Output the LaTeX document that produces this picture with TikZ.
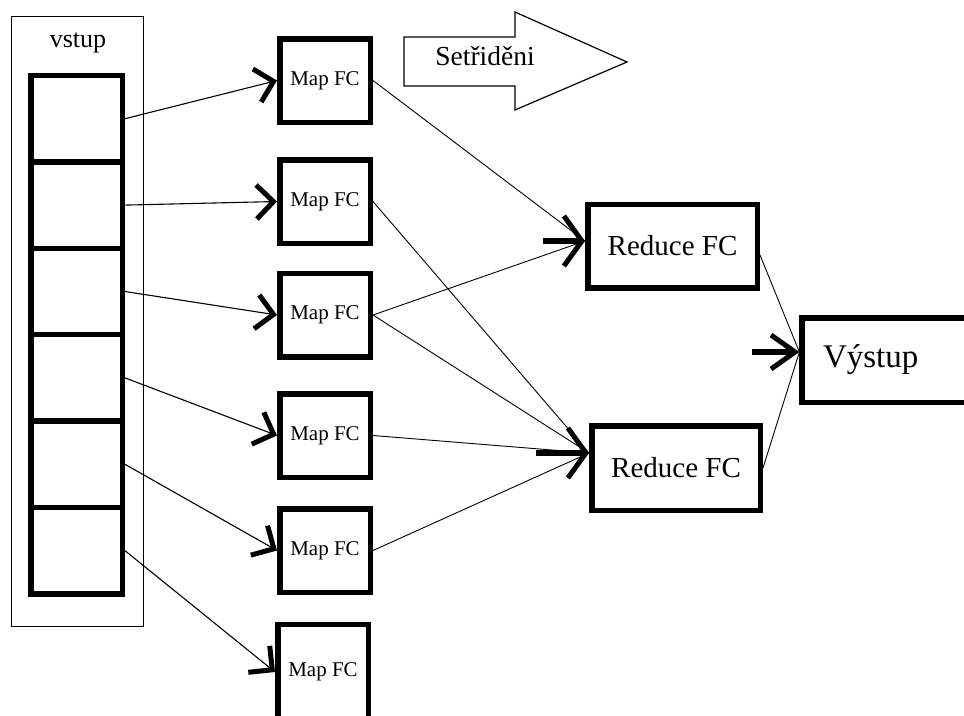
\documentclass[tikz,border=0pt]{standalone}
\usepackage{fontspec}
\setmainfont{Liberation Serif}
\usetikzlibrary{arrows.meta,positioning}

\tikzset{
  box/.style={draw, line width=5.5pt, inner sep=0pt},
  cellbox/.style={box, minimum width=91.5pt, minimum height=86.4pt},
  mapbox/.style={box, minimum width=90.5pt, minimum height=83.5pt, font=\fontsize{21}{25}\selectfont},
  redbox/.style={box, minimum height=83.5pt, font=\fontsize{29}{34}\selectfont},
  feed/.style={line width=1.1pt, -{Straight Barb[length=17pt,width=34pt,line width=5pt]}},
  link/.style={line width=0.9pt},
  stub/.style={line width=6pt, -{Straight Barb[length=18pt,width=50pt,line width=5pt]}}
}

\begin{document}
\begin{tikzpicture}[x=1pt,y=-1pt]
\useasboundingbox (0,0) rectangle (964,715);

% input
\node[draw, line width=1.2pt, minimum width=132pt, minimum height=610pt] (vstup) at (77.5,321.5) {};
\node[font=\fontsize{26}{30}\selectfont, anchor=base] (vstuptitle) at (78,47) {vstup};
\node[cellbox] (cell1) at (76.5,118.7) {};
\node[cellbox] (cell2) at (76.5,205.1) {};
\node[cellbox] (cell3) at (76.5,291.5) {};
\node[cellbox] (cell4) at (76.5,377.9) {};
\node[cellbox] (cell5) at (76.5,464.3) {};
\node[cellbox] (cell6) at (76.5,550.7) {};

% map
\node[mapbox] (map1) at (325,80.5) {Map FC};
\node[mapbox] (map2) at (325,201.5) {Map FC};
\node[mapbox] (map3) at (325,315) {Map FC};
\node[mapbox] (map4) at (325,435.5) {Map FC};
\node[mapbox] (map5) at (325,550.5) {Map FC};
\node[mapbox, minimum height=95pt] (map6) at (323,672) {Map FC};

% sorting
\draw[line width=1.2pt] (404,37) -- (515,37) -- (515,12) -- (627,62) -- (515,110) -- (515,86) -- (404,86) -- cycle;
\node[font=\fontsize{27.5}{32}\selectfont, anchor=base] (sorttext) at (485,65) {Setřiděni};

% reduce and output
\node[redbox, minimum width=169.5pt] (red1) at (672.5,246) {Reduce FC};
\node[redbox, minimum width=168.5pt, minimum height=84.5pt] (red2) at (676,468) {Reduce FC};
\node[box, minimum width=165.75pt, minimum height=84.5pt, text width=124pt, align=left, font=\fontsize{33}{38}\selectfont] (vystup) at (885,360) {Výstup};

\coordinate (r1tip) at ([yshift=5pt]red1.west);
\coordinate (r2tip) at ([yshift=15pt]red2.west);
\coordinate (outtip) at ([yshift=8pt]vystup.west);
\coordinate[left=42pt of r1tip] (r1tail);
\coordinate[left=53pt of r2tip] (r2tail);
\coordinate[left=47pt of outtip] (outtail);

\draw[feed] (cell1.east) -- (map1.west);
\draw[feed] (cell2.east) -- (map2.west);
\draw[feed] (cell3.east) -- (map3.west);
\draw[feed] (cell4.east) -- (map4.west);
\draw[feed] (cell5.east) -- (map5.west);
\draw[feed] (cell6.east) -- (map6.west);

\draw[link] (map1.east) -- (r1tip);
\draw[link] (map3.east) -- (r1tip);
\draw[link] (map2.east) -- (r2tip);
\draw[link] (map3.east) -- (r2tip);
\draw[link] (map4.east) -- (r2tip);
\draw[link] (map5.east) -- (r2tip);
\draw[link] ([yshift=-9pt]red1.east) -- (outtip);
\draw[link] (red2.east) -- (outtip);

\draw[stub] (r1tail) -- (r1tip);
\draw[stub] (r2tail) -- (r2tip);
\draw[stub, -{Straight Barb[length=24pt,width=34pt,line width=5pt]}] (outtail) -- (outtip);
\end{tikzpicture}
\end{document}
